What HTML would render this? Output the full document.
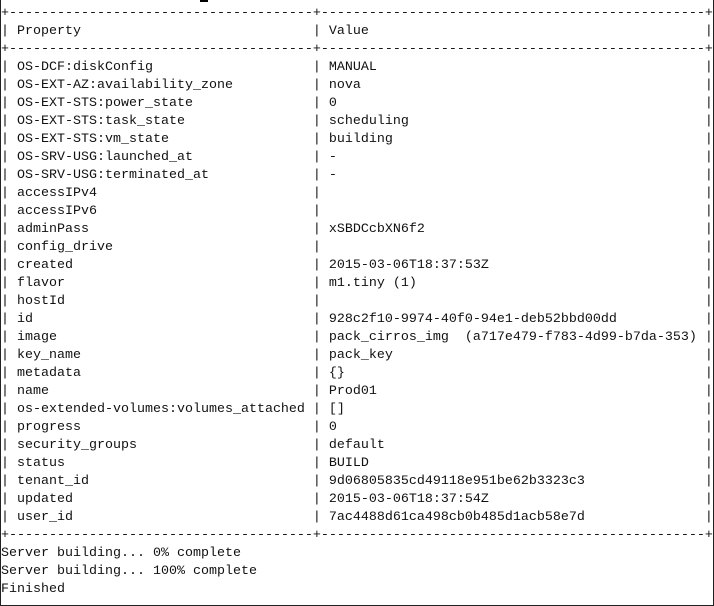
<!DOCTYPE html>
<html><head><meta charset="utf-8"><style>
html,body{margin:0;padding:0;background:#fff;}
body{width:714px;height:606px;position:relative;overflow:hidden;}
.frame{position:absolute;left:0;top:0;width:712px;height:605px;border-left:1px solid #222;border-right:1px solid #222;border-bottom:1px solid #222;}
pre{position:absolute;left:1px;top:5px;margin:0;font-family:"Liberation Mono",monospace;font-size:13.333px;line-height:18px;color:#111;}
.mark{position:absolute;left:200px;top:0;width:8px;height:2px;background:#000;}
</style></head><body>
<div class="frame"></div>
<div class="mark"></div>
<pre>+--------------------------------------+------------------------------------------------+
| Property                             | Value                                          |
+--------------------------------------+------------------------------------------------+
| OS-DCF:diskConfig                    | MANUAL                                         |
| OS-EXT-AZ:availability_zone          | nova                                           |
| OS-EXT-STS:power_state               | 0                                              |
| OS-EXT-STS:task_state                | scheduling                                     |
| OS-EXT-STS:vm_state                  | building                                       |
| OS-SRV-USG:launched_at               | -                                              |
| OS-SRV-USG:terminated_at             | -                                              |
| accessIPv4                           |                                                |
| accessIPv6                           |                                                |
| adminPass                            | xSBDCcbXN6f2                                   |
| config_drive                         |                                                |
| created                              | 2015-03-06T18:37:53Z                           |
| flavor                               | m1.tiny (1)                                    |
| hostId                               |                                                |
| id                                   | 928c2f10-9974-40f0-94e1-deb52bbd00dd           |
| image                                | pack_cirros_img  (a717e479-f783-4d99-b7da-353) |
| key_name                             | pack_key                                       |
| metadata                             | {}                                             |
| name                                 | Prod01                                         |
| os-extended-volumes:volumes_attached | []                                             |
| progress                             | 0                                              |
| security_groups                      | default                                        |
| status                               | BUILD                                          |
| tenant_id                            | 9d06805835cd49118e951be62b3323c3               |
| updated                              | 2015-03-06T18:37:54Z                           |
| user_id                              | 7ac4488d61ca498cb0b485d1acb58e7d               |
+--------------------------------------+------------------------------------------------+
Server building... 0% complete
Server building... 100% complete
Finished</pre>
</body></html>
